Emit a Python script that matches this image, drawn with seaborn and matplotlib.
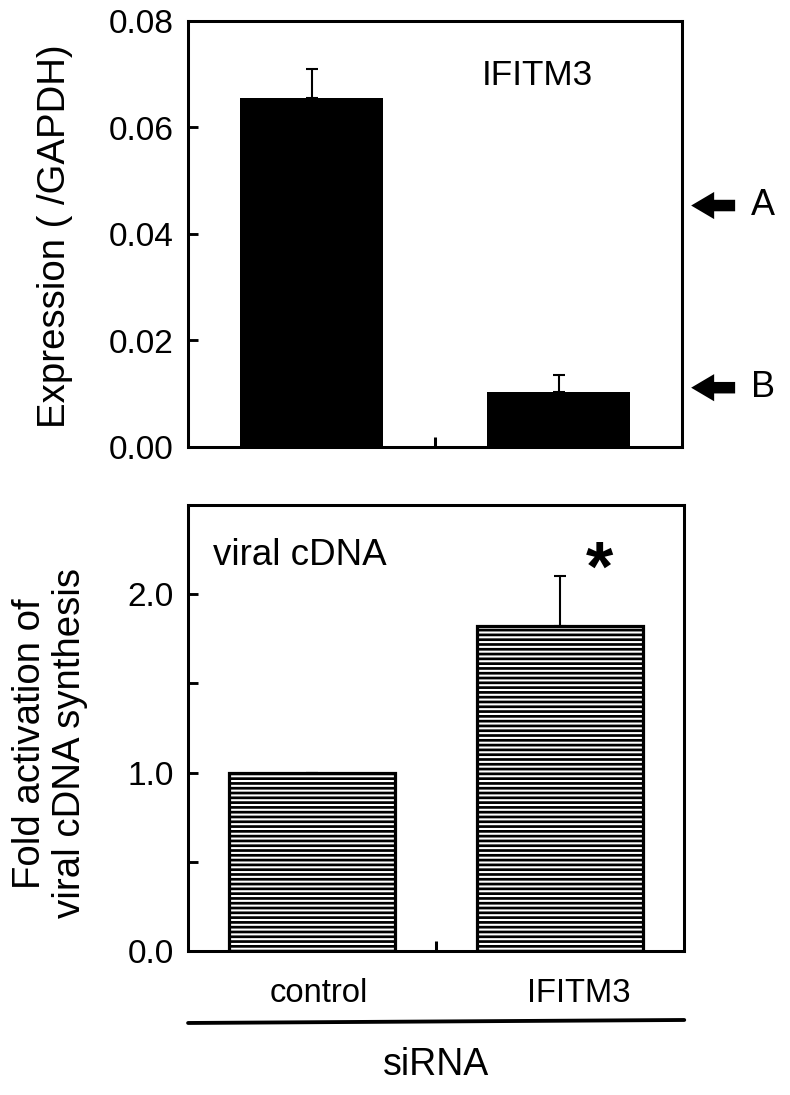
import matplotlib
matplotlib.use('Agg')
import matplotlib.pyplot as plt
import matplotlib.transforms as mtransforms
from matplotlib.lines import Line2D
import seaborn as sns
import pandas as pd

# ---- data ----
groups = ['control', 'IFITM3']
expr_mean = [0.0654, 0.0102]
expr_err = [0.0056, 0.0032]
fold_mean = [1.00, 1.82]
fold_err = [0.0, 0.28]
marker_labels = ['A', 'B']
marker_levels = [0.0453, 0.0111]
expr_ticks = [0.00, 0.02, 0.04, 0.06, 0.08]
expr_tick_labels = ['0.00', '0.02', '0.04', '0.06', '0.08']
fold_ticks = [0.0, 0.5, 1.0, 1.5, 2.0]
fold_tick_labels = ['0.0', '', '1.0', '', '2.0']
label_dx_pt = [4.4, 11.9]

DPI = 115
sns.set_theme(style='white')
plt.rcParams['font.family'] = ['Liberation Sans', 'DejaVu Sans']
plt.rcParams['text.color'] = 'black'
plt.rcParams['axes.labelcolor'] = 'black'
plt.rcParams['xtick.color'] = 'black'
plt.rcParams['ytick.color'] = 'black'
plt.rcParams['hatch.linewidth'] = 1.7
plt.rcParams['hatch.color'] = 'black'

fig = plt.figure(figsize=(790.3 / DPI, 1095.3 / DPI), dpi=DPI)
ax1 = fig.add_axes([188 / 790, 1 - 447 / 1095, 494 / 790, 426 / 1095])
ax2 = fig.add_axes([188 / 790, 1 - 951 / 1095, 496 / 790, 446 / 1095])

SPINE_W = 1.9

def style_axes(ax):
    for s in ax.spines.values():
        s.set_visible(True)
        s.set_color('black')
        s.set_linewidth(SPINE_W)
    ax.grid(False)
    ax.set_facecolor('white')

# ---- top panel ----
df1 = pd.DataFrame({'group': groups, 'value': expr_mean})
sns.barplot(data=df1, x='group', y='value', order=groups, color='black',
            saturation=1, width=0.58, linewidth=0, errorbar=None, ax=ax1)
for p in ax1.patches:
    p.set_facecolor('black')
ax1.errorbar(range(len(groups)), expr_mean, yerr=[[0] * len(groups), expr_err],
             fmt='none', ecolor='black', elinewidth=1.3, capsize=4, capthick=1.3, zorder=3)
style_axes(ax1)
ax1.set_ylim(0, 0.08)
ax1.set_xlim(-0.5, 1.5)
ax1.set_yticks(expr_ticks)
ax1.set_yticklabels(expr_tick_labels)
ax1.set_xticks([])
ax1.set_xticks([0.5], minor=True)
ax1.tick_params(axis='y', which='major', direction='in', length=6.3, width=1.8,
                labelsize=21, pad=9, left=True, right=False)
ax1.tick_params(axis='x', which='minor', direction='in', length=6, width=1.9,
                bottom=True, top=False)
ax1.set_xlabel('')
ax1.set_ylabel('Expression ( /GAPDH)', fontsize=24, va='center')
ax1.yaxis.set_label_coords(-0.269, 0.495)
ax1.text(0.706, 0.873, 'IFITM3', transform=ax1.transAxes, ha='center', va='center', fontsize=22)

trans = mtransforms.blended_transform_factory(ax1.transAxes, ax1.transData)
for lab, lvl in zip(marker_labels, marker_levels):
    ax1.annotate('', xy=(1.018, lvl), xytext=(1.107, lvl), xycoords=trans, textcoords=trans,
                 arrowprops=dict(arrowstyle='simple,head_length=0.72,head_width=0.85,tail_width=0.36',
                                 mutation_scale=20, color='black', shrinkA=0, shrinkB=0, lw=0),
                 annotation_clip=False)
    ax1.text(1.164, lvl, lab, transform=trans, ha='center', va='center', fontsize=22.5, clip_on=False)

# ---- bottom panel ----
df2 = pd.DataFrame({'group': groups, 'value': fold_mean})
sns.barplot(data=df2, x='group', y='value', order=groups, color='white',
            saturation=1, width=0.67, edgecolor='black', linewidth=2.0, errorbar=None, ax=ax2)
for p in ax2.patches:
    p.set_facecolor('white')
    p.set_edgecolor('black')
    p.set_hatch('----')
ax2.errorbar(range(len(groups)), fold_mean, yerr=[[0] * len(groups), fold_err],
             fmt='none', ecolor='black', elinewidth=1.3, capsize=4, capthick=1.3, zorder=3)
style_axes(ax2)
ax2.set_ylim(0, 2.5)
ax2.set_xlim(-0.5, 1.5)
ax2.set_yticks(fold_ticks)
ax2.set_yticklabels(fold_tick_labels)
ax2.set_xticks([0, 1])
ax2.set_xticklabels(groups)
ax2.set_xticks([0.5], minor=True)
ax2.tick_params(axis='y', which='major', direction='in', length=6.3, width=1.8,
                labelsize=21, pad=9, left=True, right=False)
ax2.tick_params(axis='x', which='major', length=0, pad=17, labelsize=20.5, bottom=True)
ax2.tick_params(axis='x', which='minor', direction='in', length=6, width=1.9,
                bottom=True, top=False)
for lbl, dx in zip(ax2.get_xticklabels(), label_dx_pt):
    lbl.set_transform(lbl.get_transform() + mtransforms.ScaledTranslation(dx / 72, 0, fig.dpi_scale_trans))
ax2.set_xlabel('')
ax2.set_ylabel('Fold activation of\nviral cDNA synthesis', fontsize=24, va='center',
               ha='center', linespacing=1.15)
ax2.yaxis.set_label_coords(-0.278, 0.466)
ax2.text(0.226, 0.886, 'viral cDNA', transform=ax2.transAxes, ha='center', va='center', fontsize=23)
ax2.text(1.157, 2.02, '*', ha='center', va='baseline', fontsize=44, fontweight='bold')

# ---- siRNA bracket ----
fig.add_artist(Line2D([188 / 790, 684 / 790], [1 - 1023 / 1095, 1 - 1020 / 1095],
                      transform=fig.transFigure, color='black', lw=2.4))
fig.text(436 / 790, 1 - 1065 / 1095, 'siRNA', ha='center', va='center', fontsize=23.5)

fig.savefig('out.png', dpi=DPI)
